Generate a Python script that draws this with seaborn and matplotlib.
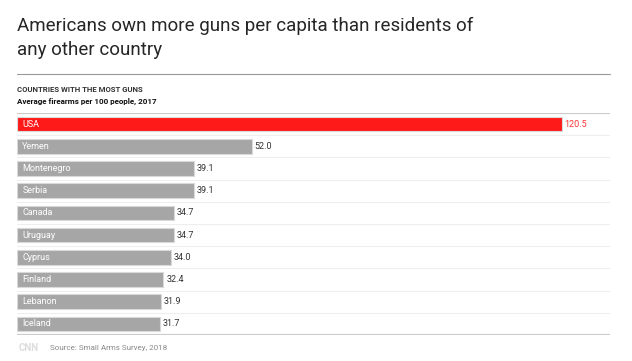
import matplotlib
matplotlib.use('Agg')
import matplotlib.pyplot as plt
import pandas as pd
import seaborn as sns

countries = ['USA', 'Yemen', 'Montenegro', 'Serbia', 'Canada', 'Uruguay',
             'Cyprus', 'Finland', 'Lebanon', 'Iceland']
guns = [120.5, 52.0, 39.1, 39.1, 34.7, 34.7, 34.0, 32.4, 31.9, 31.7]
highlight = ['USA']

df = pd.DataFrame({'country': countries, 'guns': guns})
df['grp'] = ['hi' if c in highlight else 'lo' for c in countries]

sns.set_style('white')
plt.rcParams['font.family'] = ['Roboto', 'DejaVu Sans']

W, H = 632, 361
fig = plt.figure(figsize=(W / 100, H / 100), dpi=100)

# axes spans the bar area (pixels -> figure fraction)
x0, x1 = 17, 610
y0, y1 = 113, 335
ax = fig.add_axes([x0 / W, 1 - y1 / H, (x1 - x0) / W, (y1 - y0) / H])

sns.barplot(data=df, y='country', x='guns', hue='grp', orient='h',
            palette={'hi': '#ff1a1a', 'lo': '#a6a6a6'}, saturation=1, width=0.66,
            edgecolor='#d9d9d9', linewidth=0.8, dodge=False, legend=False, ax=ax)

ax.set_xlim(0, (x1 - x0) / 4.52)
ax.set_ylim(len(countries) - 0.5, -0.5)
ax.set_xticks([])
ax.set_yticks([])
ax.set_xlabel('')
ax.set_ylabel('')
for s in ax.spines.values():
    s.set_visible(False)

# separators between rows
for i in range(len(countries) + 1):
    y = i - 0.5
    col = '#cccccc' if i in (0, len(countries)) else '#eeeeee'
    lw = 1.6 if i in (0, len(countries)) else 0.8
    ax.axhline(y, color=col, lw=lw, zorder=0)

for i, (c, v) in enumerate(zip(countries, guns)):
    ax.text(1.2, i, c, color='white', fontsize=6.5, va='center', ha='left')
    tc = '#ff3333' if c in highlight else '#333333'
    ax.text(v + 0.6, i, f'{v:.1f}', color=tc, fontsize=6.5, va='center', ha='left')

fig.text(17 / W, 1 - 38 / H, 'Americans own more guns per capita than residents of\nany other country',
         fontsize=13.5, color='#262626', va='center', ha='left', linespacing=1.45)
fig.add_artist(plt.Line2D([17 / W, 610 / W], [1 - 74 / H, 1 - 74 / H], color='#999999', lw=0.8))
fig.text(17 / W, 1 - 89 / H, 'COUNTRIES WITH THE MOST GUNS', fontsize=5.6, weight='bold',
         color='#333333', va='center')
fig.text(17 / W, 1 - 101 / H, 'Average firearms per 100 people, 2017', fontsize=5.8, weight='bold',
         color='#111111', va='center')
fig.text(19 / W, 1 - 348 / H, 'CNN', fontsize=7, weight='bold', color='#dddddd', va='center')
fig.text(50 / W, 1 - 348 / H, 'Source: Small Arms Survey, 2018', fontsize=5.8, color='#888888', va='center')

fig.savefig('out.png', dpi=100, facecolor='white')
